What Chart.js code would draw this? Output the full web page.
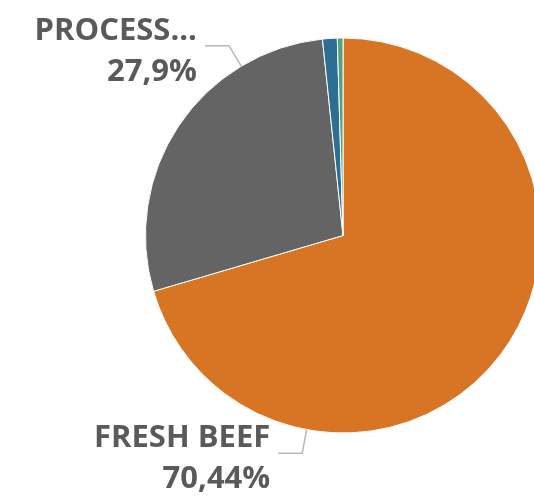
<!DOCTYPE html>
<html>
<head>
<meta charset="utf-8">
<script src="https://cdn.jsdelivr.net/npm/chart.js@4/dist/chart.umd.min.js"></script>
<style>
html,body{margin:0;padding:0;background:#fff;overflow:hidden;width:534px;height:496px;}
#c{display:block;}
</style>
</head>
<body>
<canvas id="c" width="600" height="496"></canvas>
<script>
const categories = ["FRESH BEEF", "PROCESSED BEEF", "LIVE CATTLE", "OTHER"];
const shares = [70.44, 27.9, 1.2, 0.46];
const sliceColors = ["#D87524", "#646464", "#2D6E92", "#4FA383"];
const shownLabels = ["FRESH BEEF", "PROCESS..."];
// leader-line anchor angles (degrees clockwise from top) for labelled slices
const labelAngles = [190.6, 329];

const labelPlugin = {
  id: 'pieLabels',
  afterDatasetsDraw(chart) {
    const ctx = chart.ctx;
    const meta = chart.getDatasetMeta(0);
    const arc0 = meta.data[0];
    const cx = arc0.x, cy = arc0.y, r = arc0.outerRadius;
    ctx.save();
    shownLabels.forEach((name, i) => {
      const th = labelAngles[i] * Math.PI / 180;
      const sx = cx + r * Math.sin(th), sy = cy - r * Math.cos(th);
      const ex = cx + (r + 24) * Math.sin(th), ey = cy - (r + 24) * Math.cos(th);
      const hx = ex - 24;
      ctx.strokeStyle = '#B8B8B8';
      ctx.lineWidth = 1.5;
      ctx.beginPath();
      ctx.moveTo(sx, sy);
      ctx.lineTo(ex, ey);
      ctx.lineTo(hx, ey);
      ctx.stroke();
      const pct = String(shares[i]).replace('.', ',') + '%';
      ctx.fillStyle = '#5A5A5A';
      ctx.font = 'bold 31px "Open Sans", sans-serif';
      ctx.textAlign = 'right';
      ctx.textBaseline = 'alphabetic';
      ctx.fillText(name, hx - 8, ey - 6);
      ctx.fillText(pct, hx - 8, ey + 35);
    });
    ctx.restore();
  }
};

new Chart(document.getElementById('c'), {
  type: 'pie',
  data: {
    labels: categories,
    datasets: [{
      data: shares,
      backgroundColor: sliceColors,
      borderColor: '#FFFFFF',
      borderWidth: 1
    }]
  },
  options: {
    responsive: false,
    devicePixelRatio: 1,
    animation: false,
    layout: { padding: { left: 145, right: 59, top: 37, bottom: 62 } },
    plugins: { legend: { display: false }, tooltip: { enabled: false } }
  },
  plugins: [labelPlugin]
});
</script>
</body>
</html>
